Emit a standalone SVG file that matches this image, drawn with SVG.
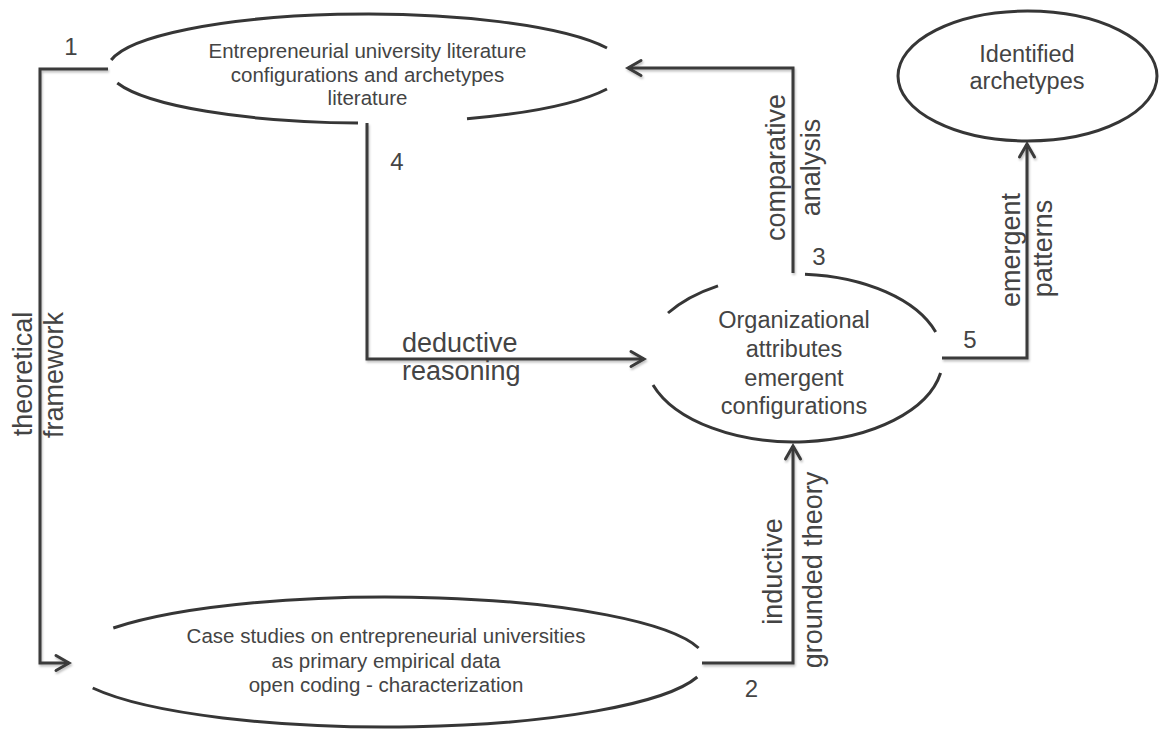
<svg xmlns="http://www.w3.org/2000/svg" width="1160" height="731" viewBox="0 0 1160 731">
<defs>
<style>
.node{fill:none;stroke:#363636;stroke-width:3;stroke-linecap:butt}
.conn{fill:none;stroke:#3a3a3a;stroke-width:3;stroke-linejoin:miter}
.t{font-family:"Liberation Sans",Arial,sans-serif;fill:#444444}
.nt{font-size:20.5px;text-anchor:middle}
.bt{font-size:23.5px;text-anchor:middle}
.et{font-size:27px}
.em{text-anchor:middle}
.num{font-size:24px;text-anchor:middle}
</style>
<marker id="arr" markerUnits="userSpaceOnUse" markerWidth="20" markerHeight="20" viewBox="-16 -10 20 20" refX="0" refY="0" orient="auto">
<path d="M-13,-7.5 L0,0 L-13,7.5" fill="none" stroke="#3a3a3a" stroke-width="3" stroke-linecap="round" stroke-linejoin="miter"/>
</marker>
<filter id="sh" x="-5%" y="-5%" width="110%" height="110%">
<feDropShadow dx="1" dy="2" stdDeviation="1" flood-color="#000" flood-opacity="0.25"/>
</filter>
</defs>
<rect width="1160" height="731" fill="#fff"/>

<g id="connectors" filter="url(#sh)">
<path class="conn" d="M108,69 H40 V663 H69" marker-end="url(#arr)"/>
<path class="conn" d="M793,273 V68 H628" marker-end="url(#arr)"/>
<path class="conn" d="M367,123 V359 H644" marker-end="url(#arr)"/>
<path class="conn" d="M702,663 H793 V446" marker-end="url(#arr)"/>
<path class="conn" d="M942,358 H1027 V144" marker-end="url(#arr)"/>
</g>

<g id="edge-labels">
<text class="t et em" transform="translate(32,374) rotate(-90)">theoretical</text>
<text class="t et em" transform="translate(63,375) rotate(-90)">framework</text>
<text class="t et em" transform="translate(785,167.5) rotate(-90)">comparative</text>
<text class="t et em" transform="translate(820,167.5) rotate(-90)">analysis</text>
<text class="t et em" transform="translate(1020,250) rotate(-90)">emergent</text>
<text class="t et em" transform="translate(1052,248.5) rotate(-90)">patterns</text>
<text class="t et em" transform="translate(782,571.5) rotate(-90)">inductive</text>
<text class="t et em" transform="translate(822,570) rotate(-90)">grounded theory</text>
<text class="t et" x="402" y="352">deductive</text>
<text class="t et" x="402" y="380">reasoning</text>
<text class="t num" x="71" y="55">1</text>
<text class="t num" x="751.5" y="697">2</text>
<text class="t num" x="819" y="265">3</text>
<text class="t num" x="397" y="170">4</text>
<text class="t num" x="970" y="348">5</text>
</g>

<g id="node-literature">
<path class="node" d="M111.2,60 A259,54.5 0 0 1 607,48"/>
<path class="node" d="M607,89 A259,54.5 0 0 1 467,118.8"/>
<path class="node" d="M358,123 A259,54.5 0 0 1 117.3,83"/>
<text class="t nt" x="367.5" y="58">Entrepreneurial university literature</text>
<text class="t nt" x="367.5" y="81.5">configurations and archetypes</text>
<text class="t nt" x="367.5" y="105">literature</text>
</g>

<g id="node-organizational">
<path class="node" d="M668,313 A149,84 0 0 1 718,285.8"/>
<path class="node" d="M805,274.2 A149,84 0 0 1 935.7,332"/>
<path class="node" d="M940.6,373 A149,84 0 0 1 653,385"/>
<text class="t bt" x="794" y="328">Organizational</text>
<text class="t bt" x="794" y="357">attributes</text>
<text class="t bt" x="794" y="386">emergent</text>
<text class="t bt" x="794" y="414">configurations</text>
</g>

<g id="node-archetypes">
<ellipse class="node" cx="1027.5" cy="76" rx="129.5" ry="65"/>
<text class="t bt" x="1027" y="62">Identified</text>
<text class="t bt" x="1027" y="89">archetypes</text>
</g>

<g id="node-casestudies">
<path class="node" d="M113.3,628 A320,65 0 0 1 698.6,648"/>
<path class="node" d="M697.3,677 A320,65 0 0 1 92.7,688"/>
<text class="t nt" x="386" y="643">Case studies on entrepreneurial universities</text>
<text class="t nt" x="386" y="667.5">as primary empirical data</text>
<text class="t nt" x="386" y="691.5">open coding - characterization</text>
</g>
</svg>
